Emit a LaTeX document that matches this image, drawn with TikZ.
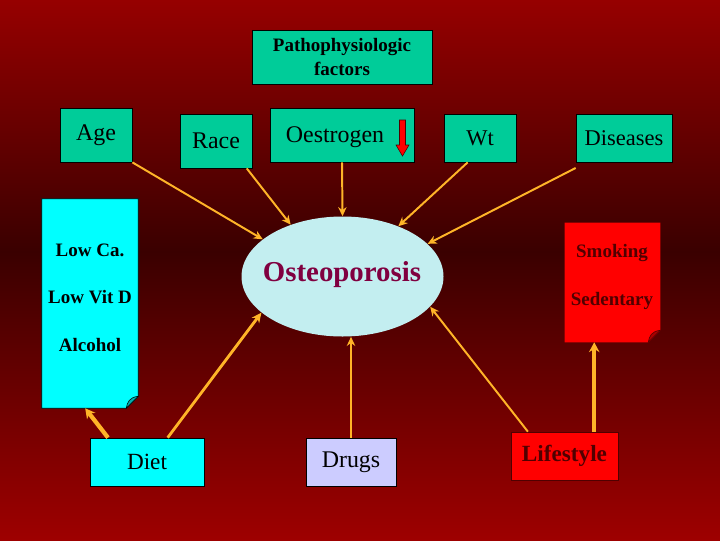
\documentclass[tikz,border=0pt]{standalone}
\usepackage{fontspec}
\setmainfont{Liberation Serif}
\usetikzlibrary{arrows.meta,calc,shapes.geometric}
\definecolor{tealbox}{RGB}{0,204,153}
\definecolor{cyanbox}{RGB}{0,255,255}
\definecolor{cyanfold}{RGB}{0,175,175}
\definecolor{lavbox}{RGB}{204,204,255}
\definecolor{redbox}{RGB}{255,0,0}
\definecolor{redfold}{RGB}{170,0,0}
\definecolor{arrc}{RGB}{255,180,40}
\definecolor{osteotxt}{RGB}{128,0,64}
\definecolor{ellfill}{RGB}{195,238,240}
\definecolor{bgtop}{RGB}{150,0,0}
\definecolor{bgmid}{RGB}{58,0,0}
\definecolor{bgbot}{RGB}{158,0,0}
\definecolor{darkred}{RGB}{80,0,0}
\def\u{0.025cm}
\begin{document}
\begin{tikzpicture}[x=0.025cm,y=-0.025cm,
  box/.style={draw=black, line width=0.5pt, inner sep=0pt, text=black},
  tbox/.style={box, fill=tealbox},
  fs17/.style={font=\fontsize{17}{20}\selectfont},
  fs16/.style={font=\fontsize{16}{19}\selectfont},
  arr/.style={draw=arrc, line width=1.4pt, -{Stealth[length=6.5pt,width=6pt]}},
  arrmid/.style={draw=arrc, line width=2pt, -{Stealth[length=7pt,width=6.5pt]}},
  arrthick/.style={draw=arrc, line width=3pt, -{Stealth[length=7pt,width=7.5pt]}},
  papertxt/.style={font=\fontsize{13.5}{15}\selectfont\bfseries},
  redtxt/.style={font=\fontsize{13.5}{15}\selectfont\bfseries, text=darkred}
]
\useasboundingbox (0,0) rectangle (720,540);
\shade[top color=bgtop, bottom color=bgmid] (0,0) rectangle (720,252);
\shade[top color=bgmid, bottom color=bgbot] (0,251) rectangle (720,540);

% top row
\node[tbox, minimum width=180*\u, minimum height=54*\u, align=center,
      font=\fontsize{13.5}{17}\selectfont\bfseries] (patho) at (342,57) {Pathophysiologic\\factors};
\node[tbox, fs17, minimum width=72*\u, minimum height=54*\u] (age) at (96,135) {Age};
\node[tbox, fs17, minimum width=72*\u, minimum height=54*\u] (race) at (216,141) {Race};
\node[tbox, minimum width=144*\u, minimum height=54*\u] (oes) at (342,135) {};
\node[fs17] (oestxt) at (335,137) {Oestrogen};
\filldraw[fill=red, draw=darkred, line width=0.4pt]
  (399.5,120) -- (405.5,120) -- (405.5,145) -- (409,145) -- (402.5,156) -- (396,145) -- (399.5,145) -- cycle;
\node[tbox, fs16, minimum width=72*\u, minimum height=48*\u] (wt) at (480,138) {Wt};
\node[tbox, fs16, minimum width=96*\u, minimum height=48*\u] (dis) at (624,138) {Diseases};

% paper box left
\node[minimum width=96*\u, minimum height=209*\u, inner sep=0pt] (lowca) at (90,303.5) {};
\draw[fill=cyanbox, line width=0.5pt] (lowca.north west) -- (lowca.north east)
  -- ($(lowca.south east)+(0,-12)$) -- ($(lowca.south east)+(-12,0)$) -- (lowca.south west) -- cycle;
\draw[fill=cyanfold, line width=0.4pt] ($(lowca.south east)+(0,-12)$)
  .. controls ($(lowca.south east)+(-9,-11)$) and ($(lowca.south east)+(-11,-6)$) .. ($(lowca.south east)+(-12,0)$) -- cycle;
\node[papertxt] (lowcat) at (90,250) {Low Ca.};
\node[papertxt] (lowvit) at (90,297) {Low Vit D};
\node[papertxt] (alc) at (90,345) {Alcohol};

% paper box right
\node[minimum width=95*\u, minimum height=119*\u, inner sep=0pt] (smoke) at (612.5,282.5) {};
\fill[redbox] (smoke.north west) -- (smoke.north east)
  -- ($(smoke.south east)+(0,-12)$) -- ($(smoke.south east)+(-12,0)$) -- (smoke.south west) -- cycle;
\draw[fill=redfold, draw=darkred, line width=0.4pt] ($(smoke.south east)+(0,-12)$)
  .. controls ($(smoke.south east)+(-9,-11)$) and ($(smoke.south east)+(-11,-6)$) .. ($(smoke.south east)+(-12,0)$) -- cycle;
\node[redtxt] (smk) at (612,253) {Smoking};
\node[redtxt] (sed) at (612,301) {Sedentary};

% centre
\node[ellipse, fill=ellfill, minimum width=202*\u, minimum height=120*\u, inner sep=0pt] (osteo) at (342.5,276.5) {};
\node[text=osteotxt, font=\fontsize{20.5}{23}\selectfont\bfseries] (osteotxt) at (342,275) {Osteoporosis};

% bottom row
\node[box, fill=cyanbox, font=\fontsize{16.5}{19}\selectfont, minimum width=114*\u, minimum height=48*\u] (diet) at (147,462) {Diet};
\node[box, fill=lavbox, font=\fontsize{17}{19}\selectfont, minimum width=90*\u, minimum height=48*\u] (drugs) at (351,462) {Drugs};
\node[box, fill=redbox, draw=darkred, text=darkred, font=\fontsize{16.5}{19}\selectfont\bfseries,
      minimum width=107*\u, minimum height=48*\u] (life) at (564.5,456) {Lifestyle};

% connectors
\draw[arr] (age.south east) -- (osteo.155);
\draw[arr] ([xshift=-4pt]race.south east) -- (osteo.135);
\draw[arr] (oes.south) -- (osteo.north);
\draw[arr] ($(wt.south west)!0.33!(wt.south east)$) -- (osteo.42.5);
\draw[arr] ([yshift=-4pt]dis.south west) -- (osteo.21);
\draw[arr] ($(life.north west)!0.16!(life.north east)$) -- (osteo.-19);
\draw[arr] (drugs.north) -- (drugs.north |- osteo.south);
\draw[arrmid] ($(diet.north west)!0.68!(diet.north east)$) -- (osteo.204);
\draw[arrthick] ($(diet.north west)!0.16!(diet.north east)$) -- ($(lowca.south west)!0.45!(lowca.south east)$);
\coordinate (lifetop) at ($(life.north west)!0.776!(life.north east)$);
\draw[arrthick] (lifetop) -- (lifetop |- smoke.south);
\end{tikzpicture}
\end{document}
